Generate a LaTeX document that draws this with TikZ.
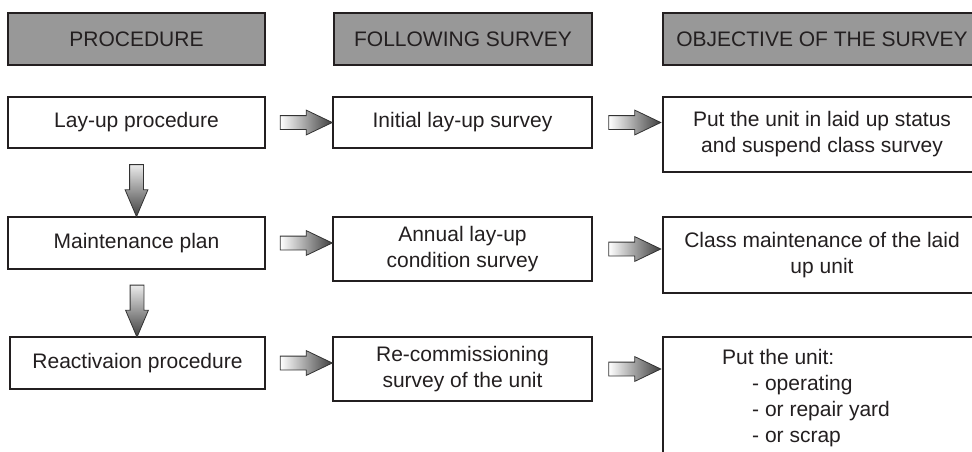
\documentclass[tikz,border=0pt]{standalone}
\usepackage{fontspec}
\setmainfont{Liberation Sans}
\usepackage{tikz}
\usetikzlibrary{shapes.arrows}
\usetikzlibrary{calc}

\definecolor{headgray}{RGB}{152,152,152}
\definecolor{inkgray}{RGB}{35,31,32}

\begin{document}
\begin{tikzpicture}[x=1pt,y=-1pt,
    font=\fontsize{21}{26}\selectfont, text=inkgray,
    box/.style={draw=inkgray, line width=1.6pt, align=center, inner sep=0pt},
    head/.style={box, fill=headgray, minimum height=52pt},
    cell/.style={box, fill=white},
    blockarrow/.style={single arrow, draw=black!80, line width=0.8pt,
      minimum height=52pt, single arrow head extend=5.5pt,
      single arrow tip angle=51},
    rightarrow/.style={blockarrow, inner xsep=0pt, inner ysep=6.5pt,
      left color=white, right color=black!75},
    downarrow/.style={blockarrow, inner sep=6.5pt, shape border rotate=270,
      single arrow head extend=4.5pt, single arrow tip angle=46,
      top color=black!8, bottom color=black!75}]
      \clip (0,0) rectangle (972,451);
      % column heads
      \node[head, minimum width=257pt] (hproc) at (136.5,39) {PROCEDURE};
      \node[head, minimum width=258pt] (hsurv) at (463,39) {FOLLOWING SURVEY};
      \node[head, minimum width=318pt] (hobj) at (822,39) {OBJECTIVE OF THE SURVEY};
      % first row
      \node[cell, minimum width=257pt, minimum height=51pt] (layup) at (136.5,122.5) {Lay-up procedure};
      \node[cell, minimum width=259pt, minimum height=51pt] (initial) at (462.5,122.5) {Initial lay-up survey};
      \node[cell, minimum width=318pt, minimum height=75pt] (laidup) at (822,134.5) {Put the unit in laid up status\\and suspend class survey};
      % second row
      \node[cell, minimum width=257pt, minimum height=52pt] (maint) at (136.5,243) {Maintenance plan};
      \node[cell, minimum width=259pt, minimum height=64pt] (annual) at (462.5,249) {Annual lay-up\\condition survey};
      \node[cell, minimum width=318pt, minimum height=76pt] (classm) at (822,255) {Class maintenance of the laid\\up unit};
      % third row
      \node[cell, minimum width=255pt, minimum height=52pt] (react) at (137.5,363) {Reactivaion procedure};
      \node[cell, minimum width=259pt, minimum height=64pt] (recomm) at (462.5,369) {Re-commissioning\\survey of the unit};
      \node[cell, minimum width=318pt, minimum height=121pt] (putunit) at (822,397.5) {};
      \node[anchor=north west, inner sep=0pt, align=left] (putlist) at (722,349)
        {Put the unit:\\\hspace*{30pt}- operating\\\hspace*{30pt}- or repair yard\\\hspace*{30pt}- or scrap};
      % arrows
      \node[rightarrow] (r1) at ($(layup.east)!0.5!(layup.east -| initial.west)$) {};
      \node[rightarrow] (r2) at ($(initial.east)!0.5!(initial.east -| laidup.west)$) {};
      \node[rightarrow] (r3) at ($(maint.east)!0.5!(maint.east -| annual.west)$) {};
      \node[rightarrow] (r4) at ($(annual.east)!0.5!(annual.east -| classm.west)$) {};
      \node[rightarrow] (r5) at ($(react.east)!0.5!(react.east -| recomm.west)$) {};
      \node[rightarrow] (r6) at ($(recomm.east)!0.5!(recomm.east -| putunit.west)$) {};
      \node[downarrow] (d1) at ($(layup.south)!0.5!(maint.north)$) {};
      \node[downarrow] (d2) at ($(maint.south)!0.5!(react.north)$) {};
    \end{tikzpicture}
\end{document}
